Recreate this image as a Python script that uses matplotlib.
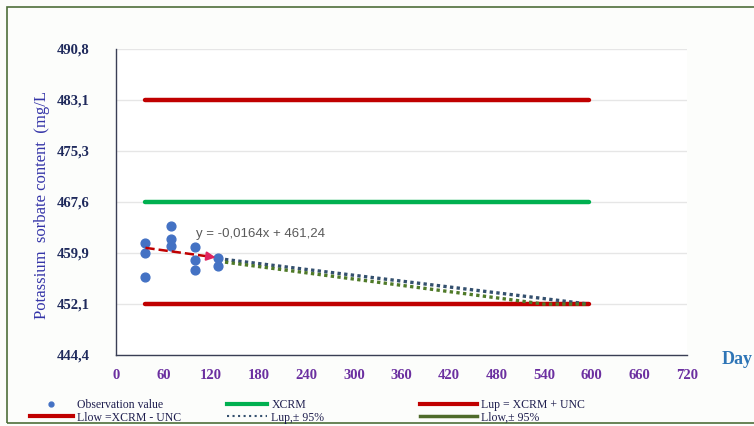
import matplotlib

matplotlib.use("Agg")
import matplotlib.pyplot as plt
import numpy as np
from matplotlib.lines import Line2D
from matplotlib.patches import Rectangle

# observations (day, mg/L)
obs_days = [37, 37, 37, 69, 69, 69, 100, 100, 100, 129, 129]
obs_values = [461.3, 459.9, 456.2, 464.0, 461.9, 460.9, 460.8, 458.8, 457.3, 459.1, 457.9]

# reference levels
limit_days = [36, 596]
xcrm = 467.6
lup = 483.1
llow = 452.1

# linear trend y = slope*x + intercept
slope = -0.0164
intercept = 461.24
trend_days = [37, 129]

# 95 % extrapolation lines
lup95_days = [129, 596]
lup95_values = [459.0, 452.1]
llow95_days = [129, 540, 596]
llow95_values = [458.6, 452.1, 452.1]

yticks = np.linspace(444.4, 490.8, 7)
xticks = np.arange(0, 721, 60)

RED = "#C00000"
GREEN = "#00B050"
BLUE = "#4472C4"
NAVY = "#1F2A5C"
SERIF = "Liberation Serif"

fig = plt.figure(figsize=(7.54, 4.26), dpi=100, facecolor="#FCFDFB")
ax = fig.add_axes([0.154, 0.167, 0.757, 0.718])
ax.set_facecolor("white")

# outer frame
fig.patches.append(Rectangle((7 / 754, 3 / 426), 760 / 754, 416 / 426,
                             transform=fig.transFigure, fill=False,
                             edgecolor="#4F6F3A", lw=1.2))

ax.plot(limit_days, [lup, lup], color=RED, lw=3.2, solid_capstyle="round", zorder=3)
ax.plot(limit_days, [xcrm, xcrm], color=GREEN, lw=3.2, solid_capstyle="round", zorder=3)
ax.plot(limit_days, [llow, llow], color=RED, lw=3.2, solid_capstyle="round", zorder=3)

ax.plot(lup95_days, lup95_values, ls=(0, (1, 1)), lw=2.4, color="#34506E", zorder=4)
ax.plot(llow95_days, llow95_values, ls=(0, (1, 1)), lw=2.4, color="#4F7A28", zorder=4)

ax.scatter(obs_days, obs_values, s=40, color=BLUE, zorder=5)

ty = [slope * d + intercept for d in trend_days]
ax.plot([trend_days[0], trend_days[1] - 8], [ty[0], slope * (trend_days[1] - 8) + intercept],
        ls="--", color=RED, lw=1.8, zorder=6)
ax.annotate("", xy=(trend_days[1], ty[1]),
            xytext=(trend_days[1] - 14, slope * (trend_days[1] - 14) + intercept),
            arrowprops=dict(arrowstyle="-|>", color="#E0245E", lw=1.5,
                            mutation_scale=13), zorder=7)
ax.text(101, 462.7, f"y = {slope:.4f}x + {intercept:.2f}".replace(".", ","),
        fontsize=9.5, color="#595959", va="center", ha="left",
        family="Liberation Sans")

ax.set_xlim(0, 720)
ax.set_ylim(444.4, 490.8)
ax.set_xticks(xticks)
ax.set_yticks(yticks)
ax.set_yticklabels([f"{v:.1f}".replace(".", ",") for v in yticks])
ax.tick_params(length=0)
ax.tick_params(axis="y", pad=19)
ax.tick_params(axis="x", pad=10)
for lab in ax.get_yticklabels():
    lab.set(family=SERIF, fontweight="bold", fontsize=10.5, color=NAVY)
for lab in ax.get_xticklabels():
    lab.set(family=SERIF, fontweight="bold", fontsize=10.5, color="#6B2FA0")

ax.grid(axis="y", color="#E6E6E6", lw=1)
ax.set_axisbelow(True)
for s in ["top", "right"]:
    ax.spines[s].set_visible(False)
for s in ["left", "bottom"]:
    ax.spines[s].set_color("#3A3F55")
    ax.spines[s].set_linewidth(1)

fig.text(42 / 754, 1 - 205 / 426, "Potassium  sorbate content  (mg/L",
         rotation=90, ha="center", va="center", family=SERIF,
         fontsize=12, color="#3535A8")
fig.text(722 / 754, 1 - 360 / 426, "Day", ha="left", va="center",
         family=SERIF, fontweight="bold", fontsize=13, color="#2E75B6")

# legend, three columns of two rows
leg_kw = dict(frameon=False, loc="upper left", borderpad=0, borderaxespad=0,
              labelspacing=0.05, handletextpad=0.35,
              prop={"family": SERIF, "size": 8.5})
col1 = [Line2D([], [], ls="", marker="o", ms=3.5, color=BLUE),
        Line2D([], [], color=RED, lw=3)]
col2 = [Line2D([], [], color=GREEN, lw=3),
        Line2D([], [], color="#34506E", lw=1.5, ls=":")]
col3 = [Line2D([], [], color=RED, lw=3),
        Line2D([], [], color="#4E6B2A", lw=2.5)]
top = 1 - 399 / 426
legs = [
    fig.legend(col1, ["Observation value", "Llow =XCRM - UNC"],
               bbox_to_anchor=(30 / 754, top), handlelength=3.6, **leg_kw),
    fig.legend(col2, ["XCRM", "Lup,\u00b1 95%"],
               bbox_to_anchor=(227 / 754, top), handlelength=3.4, **leg_kw),
    fig.legend(col3, ["Lup = XCRM + UNC", "Llow,\u00b1 95%"],
               bbox_to_anchor=(420 / 754, top), handlelength=4.8, **leg_kw),
]
for lg in legs:
    for t in lg.get_texts():
        t.set_color("#1F1F4F")

fig.savefig("out.png", dpi=100, facecolor=fig.get_facecolor())
